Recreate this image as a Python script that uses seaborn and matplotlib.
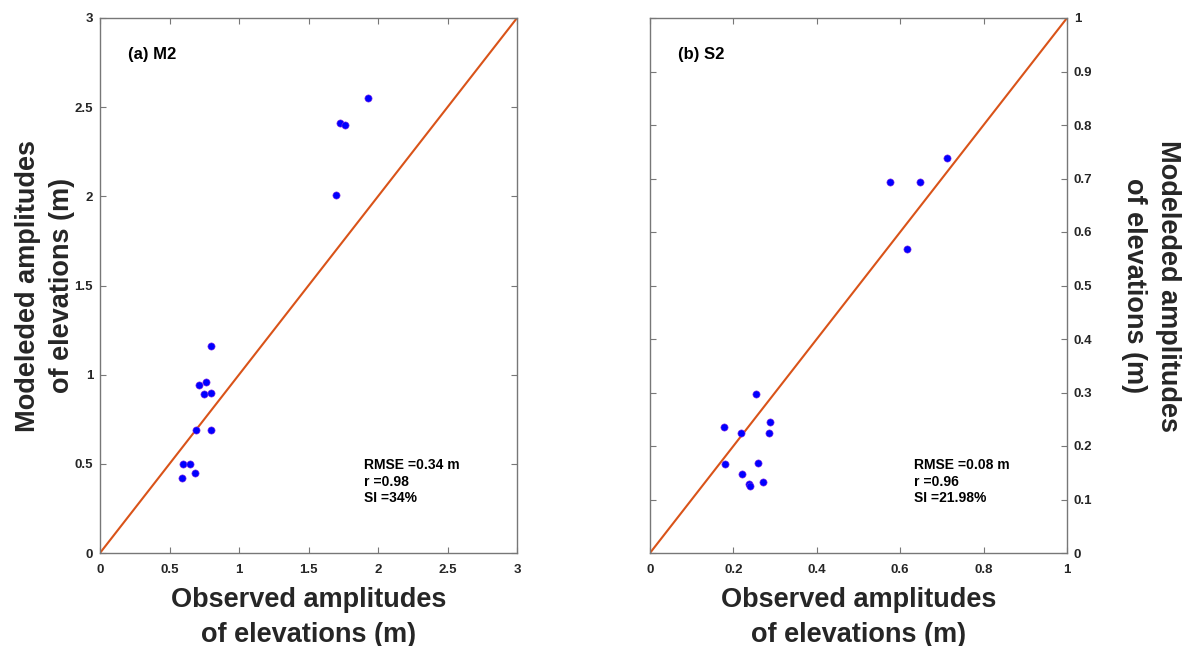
import matplotlib
matplotlib.use("Agg")
import matplotlib.pyplot as plt
import seaborn as sns
import pandas as pd

# ---- data ----
m2_observed = [1.93, 1.73, 1.76, 1.70, 0.80, 0.76, 0.71, 0.75, 0.80, 0.69, 0.80, 0.60, 0.65, 0.68, 0.59]
m2_modeled = [2.55, 2.41, 2.40, 2.01, 1.16, 0.96, 0.94, 0.89, 0.90, 0.69, 0.69, 0.50, 0.50, 0.45, 0.42]
s2_observed = [0.713, 0.576, 0.647, 0.616, 0.253, 0.177, 0.218, 0.287, 0.285, 0.180, 0.258, 0.221, 0.237, 0.241, 0.270]
s2_modeled = [0.739, 0.693, 0.693, 0.568, 0.297, 0.235, 0.225, 0.244, 0.224, 0.166, 0.168, 0.147, 0.129, 0.125, 0.133]
m2_line = [0, 3]
s2_line = [0, 1]
m2_ticks = [0, 0.5, 1, 1.5, 2, 2.5, 3]
m2_ticklabels = ["0", "0.5", "1", "1.5", "2", "2.5", "3"]
s2_xticks = [0, 0.2, 0.4, 0.6, 0.8, 1]
s2_xticklabels = ["0", "0.2", "0.4", "0.6", "0.8", "1"]
s2_yticks = [0, 0.1, 0.2, 0.3, 0.4, 0.5, 0.6, 0.7, 0.8, 0.9, 1]
s2_yticklabels = ["0", "0.1", "0.2", "0.3", "0.4", "0.5", "0.6", "0.7", "0.8", "0.9", "1"]
panel_titles = ["(a) M2", "(b) S2"]
stats_texts = ["RMSE =0.34 m\nr =0.98\nSI =34%", "RMSE =0.08 m\nr =0.96\nSI =21.98%"]
xlabel_text = "Observed amplitudes\nof elevations (m)"
ylabel_text = "Modeleded amplitudes\nof elevations (m)"

sns.set_theme(style="white")
plt.rcParams["font.family"] = ["Liberation Sans", "DejaVu Sans"]
plt.rcParams["font.weight"] = "bold"

fig = plt.figure(figsize=(11.91, 6.46), dpi=100)
ax1 = fig.add_axes([100 / 1191, 93 / 646, 417 / 1191, 535 / 646])
ax2 = fig.add_axes([650 / 1191, 93 / 646, 417 / 1191, 535 / 646])

line_color = "#D95319"
dot_color = "#0000FF"
spine_color = "#777777"
text_color = "#262626"
label_size = 19.5
label_spacing = 1.42

df1 = pd.DataFrame({"obs": m2_observed, "mod": m2_modeled})
df2 = pd.DataFrame({"obs": s2_observed, "mod": s2_modeled})

for ax, df, line, lim in [(ax1, df1, m2_line, 3), (ax2, df2, s2_line, 1)]:
    sns.lineplot(x=line, y=line, ax=ax, color=line_color, linewidth=1.5)
    sns.scatterplot(data=df, x="obs", y="mod", ax=ax, color=dot_color, s=27,
                    edgecolor="#8A2BE2", linewidth=0.4, zorder=3)
    ax.set_xlim(0, lim)
    ax.set_ylim(0, lim)
    for sp in ax.spines.values():
        sp.set_visible(True)
        sp.set_color(spine_color)
        sp.set_linewidth(1.0)
    ax.tick_params(direction="in", length=4, width=0.8, color=spine_color,
                   labelsize=9.5, labelcolor=text_color, top=True, right=True,
                   bottom=True, left=True, pad=5)
    ax.tick_params(axis="x", pad=8)
    ax.set_xlabel(xlabel_text, fontsize=label_size, fontweight="bold", color=text_color,
                  linespacing=label_spacing, labelpad=8)
    ax.set_ylabel(ylabel_text, fontsize=label_size, fontweight="bold", color=text_color,
                  linespacing=label_spacing)

ax1.set_xticks(m2_ticks, m2_ticklabels)
ax1.set_yticks(m2_ticks, m2_ticklabels)
ax1.yaxis.labelpad = -0.5

ax2.set_xticks(s2_xticks, s2_xticklabels)
ax2.set_yticks(s2_yticks, s2_yticklabels)
ax2.yaxis.tick_right()
ax2.tick_params(axis="y", left=True, right=True, labelleft=False, labelright=True)
ax2.yaxis.set_label_position("right")
ax2.set_ylabel(ylabel_text, fontsize=label_size, fontweight="bold", color=text_color,
               linespacing=label_spacing, rotation=270, labelpad=64)

for ax, title, stats in zip([ax1, ax2], panel_titles, stats_texts):
    for lbl in ax.get_xticklabels() + ax.get_yticklabels():
        lbl.set_fontweight("bold")
    ax.text(0.067, 0.931, title, transform=ax.transAxes, fontsize=12,
            fontweight="bold", color="black", ha="left", va="center")
    ax.text(0.633, 0.178, stats, transform=ax.transAxes, fontsize=10,
            fontweight="bold", color="black", ha="left", va="top", linespacing=1.25)

fig.savefig("out.png", dpi=100, facecolor="white")
